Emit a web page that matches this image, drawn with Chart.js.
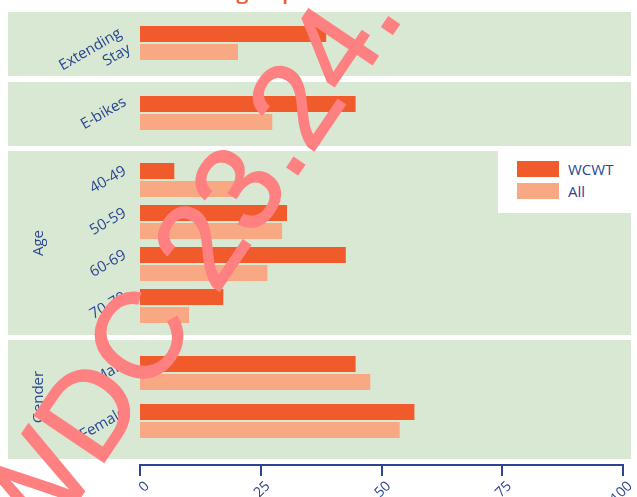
<!DOCTYPE html>
<html>
<head>
<meta charset="utf-8">
<script src="https://cdn.jsdelivr.net/npm/chart.js@4.4.1/dist/chart.umd.min.js"></script>
<style>
  body { margin: 0; background: #fff; }
  #page { position: relative; width: 637px; height: 497px; overflow: hidden; font-family: "Open Sans", sans-serif; }
  .band { position: absolute; left: 8px; }
  #legend { position: absolute; left: 498px; top: 151px; width: 133px; height: 62px; background: #fff; }
  .item { position: absolute; left: 19px; height: 16px; font-size: 15px; color: #2b4593; line-height: 16px; }
  .item span { display: inline-block; width: 42px; height: 16px; vertical-align: top; margin-right: 9px; }
  svg { position: absolute; left: 0; top: 0; pointer-events: none; }
</style>
</head>
<body>
<div id="page">
  <canvas class="band" id="cStay" width="623" height="64" style="top:12px"></canvas>
  <canvas class="band" id="cBike" width="623" height="64" style="top:82px"></canvas>
  <canvas class="band" id="cAge" width="623" height="184" style="top:151px"></canvas>
  <canvas class="band" id="cGender" width="623" height="119" style="top:340px"></canvas>
  <canvas class="band" id="cAxis" width="629" height="42" style="top:455px"></canvas>
  <div id="legend"></div>
  <svg width="637" height="497">
    <text x="183" y="-1" font-family="Open Sans" font-weight="600" font-size="22" fill="#f15a2b">Biking to parks</text>
    <text x="34" y="566" transform="rotate(-56 34 566)" font-family="Liberation Sans" font-size="122" fill="#ff8080" stroke="#ff8080" stroke-width="1.5">WDC 23.24.</text>
  </svg>
</div>
<script>
const seriesNames = ["WCWT", "All"];
const seriesColors = ["#f15a2b", "#f8a984"];

const stayLabels = [["Extending", "Stay"]];
const stayWcwt = [38];
const stayAll = [20];

const bikeLabels = ["E-bikes"];
const bikeWcwt = [44];
const bikeAll = [27];

const ageLabels = ["40-49", "50-59", "60-69", "70-79"];
const ageWcwt = [7, 30, 42, 17];
const ageAll = [20, 29, 26, 10];

const genderLabels = ["Male", "Female"];
const genderWcwt = [44, 56];
const genderAll = [47, 53];

const xTicks = [0, 25, 50, 75, 100];

const BLUE = "#2b4593";
const GREEN = "#d8e8d3";
const FONT = "'Open Sans', sans-serif";

// green panel behind each group
const bandFill = {
  id: "bandFill",
  beforeDraw(chart) {
    const ctx = chart.ctx;
    ctx.save();
    ctx.fillStyle = GREEN;
    ctx.fillRect(0, 0, chart.width, chart.height);
    ctx.restore();
  }
};

function makeBand(id, labels, wcwt, all, o) {
  return new Chart(document.getElementById(id), {
    type: "bar",
    data: {
      labels: labels,
      datasets: [
        { label: seriesNames[0], data: wcwt, backgroundColor: seriesColors[0] },
        { label: seriesNames[1], data: all, backgroundColor: seriesColors[1] }
      ]
    },
    options: {
      indexAxis: "y",
      responsive: false,
      animation: false,
      categoryPercentage: o.cat,
      barPercentage: 0.889,
      layout: { padding: { top: o.top, bottom: o.bottom, left: 0, right: 1 } },
      plugins: { legend: { display: false }, tooltip: { enabled: false } },
      scales: {
        x: { display: false, min: 0, max: 100 },
        y: {
          grid: { display: false },
          border: { display: false },
          ticks: {
            color: BLUE,
            font: { family: FONT, size: 15 },
            padding: 7,
            minRotation: 30,
            maxRotation: 30,
            labelOffset: o.shift
          },
          title: {
            display: !!o.title,
            text: o.title || "",
            color: BLUE,
            font: { family: FONT, size: 15 },
            padding: { top: 22, bottom: 0 }
          },
          afterFit(s) {
            s.width = 132;
            s.paddingTop = 0;
            s.paddingBottom = 0;
          }
        }
      }
    },
    plugins: [bandFill]
  });
}

makeBand("cStay", stayLabels, stayWcwt, stayAll, { top: 10, bottom: 12, cat: 36 / 42, shift: -3 });
makeBand("cBike", bikeLabels, bikeWcwt, bikeAll, { top: 10, bottom: 12, cat: 36 / 42, shift: -12 });
makeBand("cAge", ageLabels, ageWcwt, ageAll, { top: 8, bottom: 8, cat: 36 / 42, shift: -10, title: "Age" });
makeBand("cGender", genderLabels, genderWcwt, genderAll, { top: 9, bottom: 14, cat: 36 / 48, shift: -10, title: "Gender" });

// shared value axis along the bottom
new Chart(document.getElementById("cAxis"), {
  type: "bar",
  data: { labels: [""], datasets: [] },
  options: {
    indexAxis: "y",
    responsive: false,
    animation: false,
    layout: { padding: { left: 132, right: 7, top: 0, bottom: 0 } },
    plugins: { legend: { display: false }, tooltip: { enabled: false } },
    scales: {
      y: { display: false },
      x: {
        type: "linear",
        min: xTicks[0],
        max: xTicks[xTicks.length - 1],
        afterBuildTicks(s) { s.ticks = xTicks.map(v => ({ value: v })); },
        grid: { drawOnChartArea: false, color: BLUE, lineWidth: 2, tickLength: 11 },
        border: { color: BLUE, width: 2 },
        ticks: {
          color: BLUE,
          font: { family: FONT, size: 14 },
          minRotation: 45,
          maxRotation: 45,
          padding: 2,
          labelOffset: 7
        },
        afterFit(s) { s.height = 32; }
      }
    }
  }
});

// legend
const legend = document.getElementById("legend");
seriesNames.forEach((name, i) => {
  const el = document.createElement("div");
  el.className = "item";
  el.style.top = (10 + i * 22) + "px";
  el.innerHTML = `<span style="background:${seriesColors[i]}"></span>${name}`;
  legend.appendChild(el);
});
</script>
</body>
</html>
